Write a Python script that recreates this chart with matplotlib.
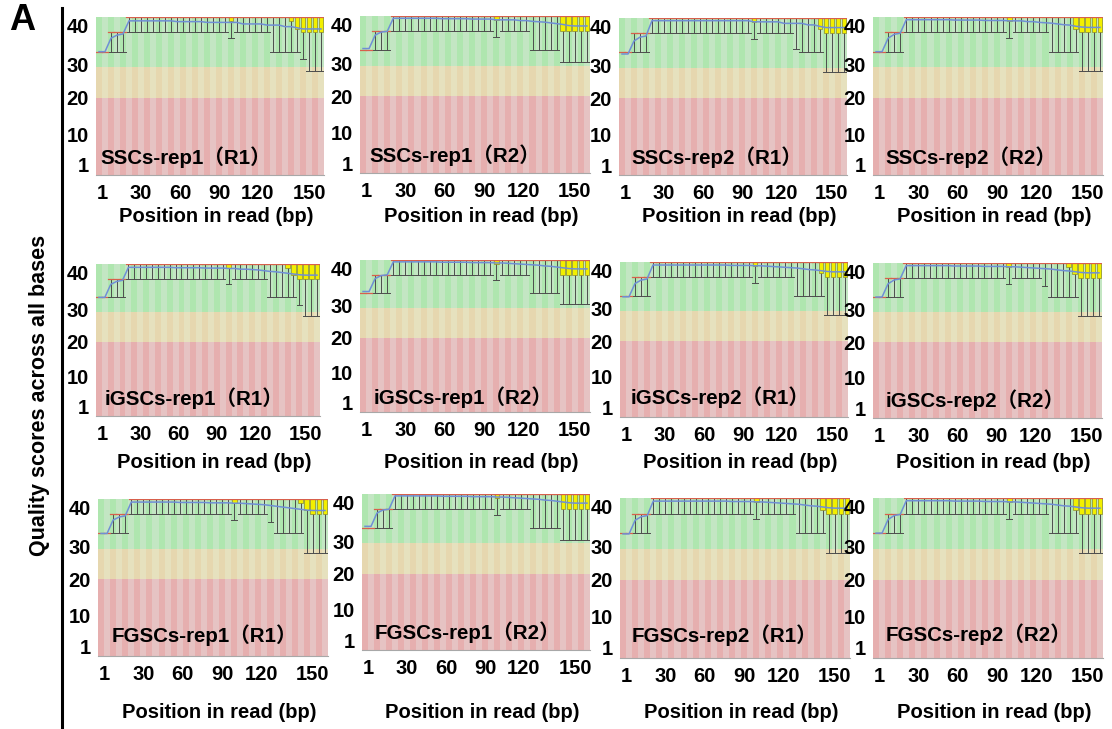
import matplotlib
matplotlib.use("Agg")
import matplotlib.pyplot as plt
from matplotlib.patches import Rectangle
from matplotlib.lines import Line2D

plt.rcParams['font.family'] = ['Liberation Sans', 'DejaVu Sans']

# ------------------------------------------------------------------
# Per-base quality summaries (38 position bins per read)
# ------------------------------------------------------------------
sample_titles = [
    "SSCs-rep1（R1）", "SSCs-rep1（R2）", "SSCs-rep2（R1）", "SSCs-rep2（R2）",
    "iGSCs-rep1（R1）", "iGSCs-rep1（R2）", "iGSCs-rep2（R1）", "iGSCs-rep2（R2）",
    "FGSCs-rep1（R1）", "FGSCs-rep1（R2）", "FGSCs-rep2（R1）", "FGSCs-rep2（R2）",
]

# median per bin; the upper quartile and the 90th percentile equal it in every bin
median_q = [32, 32, 37, 37, 37, 41, 41, 41, 41, 41, 41, 41, 41, 41, 41, 41, 41, 41, 41,
            41, 41, 41, 41, 41, 41, 41, 41, 41, 41, 41, 41, 41, 41, 41, 41, 41, 41, 41]

# mean quality per bin
sscs1_r1_mean = [32.0, 32.0, 35.5, 36.3, 36.6, 40.0, 40.0, 40.0, 40.0, 40.0, 40.0, 40.0, 40.0,
                 39.8, 39.8, 39.8, 39.8, 39.8, 39.6, 39.6, 39.6, 39.6, 39.6, 39.6, 39.2, 39.2,
                 39.2, 39.2, 38.9, 38.9, 38.9, 38.5, 38.5, 38.2, 37.9, 37.9, 37.9, 37.9]
sscs1_r2_mean = [32.5, 32.5, 36.0, 36.8, 37.0, 40.4, 40.4, 40.4, 40.4, 40.4, 40.4, 40.4, 40.4,
                 40.3, 40.3, 40.3, 40.3, 40.3, 40.2, 40.2, 40.2, 40.2, 40.0, 40.0, 40.0, 40.0,
                 39.8, 39.8, 39.6, 39.5, 39.4, 39.2, 39.0, 38.8, 38.5, 38.4, 38.4, 38.4]
sscs2_r1_mean = [31.6, 31.6, 35.0, 36.0, 36.3, 40.3, 40.3, 40.3, 40.3, 40.3, 40.3, 40.3, 40.3,
                 40.3, 40.3, 40.3, 40.3, 40.3, 40.3, 40.3, 40.3, 40.3, 40.0, 40.0, 40.0, 40.0,
                 40.0, 39.6, 39.6, 39.6, 39.6, 39.2, 39.2, 38.8, 38.5, 38.5, 38.5, 38.5]
sscs2_r2_mean = [32.0, 32.0, 35.5, 36.5, 36.8, 40.3, 40.3, 40.3, 40.3, 40.3, 40.3, 40.3, 40.3,
                 40.2, 40.2, 40.2, 40.2, 40.2, 40.1, 40.1, 40.1, 40.1, 40.0, 40.0, 40.0, 39.8,
                 39.8, 39.6, 39.5, 39.4, 39.2, 39.0, 38.9, 38.6, 38.4, 38.3, 38.3, 38.3]
igscs1_r1_mean = [32.0, 32.0, 35.5, 36.3, 36.6, 40.1, 40.1, 40.1, 40.1, 40.1, 40.1, 40.1, 40.1,
                  40.0, 40.0, 40.0, 40.0, 40.0, 39.9, 39.9, 39.9, 39.9, 39.8, 39.8, 39.6, 39.6,
                  39.5, 39.4, 39.2, 39.0, 38.9, 38.7, 38.5, 38.3, 38.1, 38.0, 38.0, 38.0]
igscs1_r2_mean = [32.5, 32.5, 36.0, 36.8, 37.0, 40.5, 40.5, 40.5, 40.5, 40.5, 40.5, 40.5, 40.5,
                  40.4, 40.4, 40.4, 40.4, 40.4, 40.3, 40.3, 40.3, 40.3, 40.2, 40.2, 40.1, 40.0,
                  39.9, 39.8, 39.7, 39.6, 39.4, 39.3, 39.1, 38.9, 38.7, 38.6, 38.6, 38.6]
igscs2_r1_mean = [31.8, 31.8, 35.3, 36.2, 36.5, 40.2, 40.2, 40.2, 40.2, 40.2, 40.2, 40.2, 40.2,
                  40.2, 40.2, 40.2, 40.2, 40.2, 40.1, 40.1, 40.1, 40.1, 40.0, 40.0, 39.9, 39.8,
                  39.7, 39.6, 39.5, 39.4, 39.2, 39.0, 38.9, 38.7, 38.5, 38.4, 38.4, 38.4]
igscs2_r2_mean = [32.0, 32.0, 35.5, 36.5, 36.8, 40.3, 40.3, 40.3, 40.3, 40.3, 40.3, 40.3, 40.3,
                  40.2, 40.2, 40.2, 40.2, 40.2, 40.1, 40.1, 40.1, 40.1, 40.0, 40.0, 39.9, 39.8,
                  39.7, 39.6, 39.5, 39.4, 39.2, 39.0, 38.9, 38.7, 38.5, 38.4, 38.4, 38.4]
fgscs1_r1_mean = [32.0, 32.0, 35.5, 36.3, 36.6, 40.2, 40.2, 40.2, 40.2, 40.2, 40.2, 40.2, 40.2,
                  40.1, 40.1, 40.1, 40.1, 40.1, 40.0, 40.0, 40.0, 40.0, 39.9, 39.9, 39.8, 39.7,
                  39.6, 39.5, 39.3, 39.1, 38.9, 38.7, 38.5, 38.3, 38.1, 38.0, 38.0, 38.0]
fgscs1_r2_mean = [32.5, 32.5, 36.0, 36.8, 37.0, 40.5, 40.5, 40.5, 40.5, 40.5, 40.5, 40.5, 40.5,
                  40.4, 40.4, 40.4, 40.4, 40.4, 40.3, 40.3, 40.3, 40.3, 40.2, 40.2, 40.1, 40.0,
                  39.9, 39.8, 39.7, 39.6, 39.4, 39.3, 39.1, 38.9, 38.7, 38.6, 38.6, 38.6]
fgscs2_r1_mean = [31.8, 31.8, 35.3, 36.2, 36.5, 40.2, 40.2, 40.2, 40.2, 40.2, 40.2, 40.2, 40.2,
                  40.2, 40.2, 40.2, 40.2, 40.2, 40.1, 40.1, 40.1, 40.1, 40.0, 40.0, 39.9, 39.8,
                  39.7, 39.6, 39.5, 39.4, 39.2, 39.0, 38.9, 38.7, 38.5, 38.4, 38.4, 38.4]
fgscs2_r2_mean = [32.0, 32.0, 35.5, 36.5, 36.8, 40.3, 40.3, 40.3, 40.3, 40.3, 40.3, 40.3, 40.3,
                  40.2, 40.2, 40.2, 40.2, 40.2, 40.1, 40.1, 40.1, 40.1, 40.0, 40.0, 39.9, 39.8,
                  39.7, 39.6, 39.5, 39.4, 39.2, 39.0, 38.9, 38.7, 38.5, 38.4, 38.4, 38.4]

# 10th percentile per bin (lower whisker)
sscs1_r1_low = [32, 32, 32, 32, 32, 37, 37, 37, 37, 37, 37, 37, 37, 37, 37, 37, 37, 37, 37,
                37, 37, 37, 35.5, 37, 37, 37, 37, 37, 37, 32, 32, 32, 32, 32, 30, 27, 27, 27]
sscs1_r2_low = [32, 32, 32, 32, 32, 37, 37, 37, 37, 37, 37, 37, 37, 37, 37, 37, 37, 37, 37,
                37, 37, 37, 35.5, 37, 37, 37, 37, 37, 32, 32, 32, 32, 32, 29, 29, 29, 29, 29]
sscs2_r1_low = [32, 32, 32, 32, 32, 37, 37, 37, 37, 37, 37, 37, 37, 37, 37, 37, 37, 37, 37,
                37, 37, 37, 35.5, 37, 37, 37, 37, 37, 37, 33, 32, 32, 32, 32, 27, 27, 27, 27]
sscs2_r2_low = [32, 32, 32, 32, 32, 37, 37, 37, 37, 37, 37, 37, 37, 37, 37, 37, 37, 37, 37,
                37, 37, 37, 35.5, 37, 37, 37, 37, 37, 37, 32, 32, 32, 32, 32, 27, 27, 27, 27]
igscs1_r1_low = [32, 32, 32, 32, 32, 37, 37, 37, 37, 37, 37, 37, 37, 37, 37, 37, 37, 37, 37,
                 37, 37, 37, 35.5, 37, 37, 37, 37, 37, 37, 32, 32, 32, 32, 32, 30, 27, 27, 27]
igscs1_r2_low = [32, 32, 32, 32, 32, 37, 37, 37, 37, 37, 37, 37, 37, 37, 37, 37, 37, 37, 37,
                 37, 37, 37, 35.5, 37, 37, 37, 37, 37, 32, 32, 32, 32, 32, 29, 29, 29, 29, 29]
igscs2_r1_low = [32, 32, 32, 32, 32, 37, 37, 37, 37, 37, 37, 37, 37, 37, 37, 37, 37, 37, 37,
                 37, 37, 37, 35.5, 37, 37, 37, 37, 37, 37, 32, 32, 32, 32, 32, 27, 27, 27, 27]
igscs2_r2_low = [32, 32, 32, 32, 32, 37, 37, 37, 37, 37, 37, 37, 37, 37, 37, 37, 37, 37, 37,
                 37, 37, 37, 35.5, 37, 37, 37, 37, 37, 35, 32, 32, 32, 32, 32, 27, 27, 27, 27]
fgscs1_r1_low = [32, 32, 32, 32, 32, 37, 37, 37, 37, 37, 37, 37, 37, 37, 37, 37, 37, 37, 37,
                 37, 37, 37, 35.5, 37, 37, 37, 37, 37, 35, 32, 32, 32, 32, 32, 27, 27, 27, 27]
fgscs1_r2_low = [32, 32, 32, 32, 32, 37, 37, 37, 37, 37, 37, 37, 37, 37, 37, 37, 37, 37, 37,
                 37, 37, 37, 35.5, 37, 37, 37, 37, 37, 32, 32, 32, 32, 32, 29, 29, 29, 29, 29]
fgscs2_r1_low = [32, 32, 32, 32, 32, 37, 37, 37, 37, 37, 37, 37, 37, 37, 37, 37, 37, 37, 37,
                 37, 37, 37, 35.5, 37, 37, 37, 37, 37, 37, 32, 32, 32, 32, 32, 27, 27, 27, 27]
fgscs2_r2_low = [32, 32, 32, 32, 32, 37, 37, 37, 37, 37, 37, 37, 37, 37, 37, 37, 37, 37, 37,
                 37, 37, 37, 35.5, 37, 37, 37, 37, 37, 37, 32, 32, 32, 32, 32, 27, 27, 27, 27]

# lower quartile per bin
sscs1_r1_box = [32, 32, 37, 37, 37, 41, 41, 41, 41, 41, 41, 41, 41, 41, 41, 41, 41, 41, 41,
                41, 41, 41, 40, 41, 41, 41, 41, 41, 41, 41, 41, 41, 40, 38, 37, 37, 37, 37]
sscs1_r2_box = [32, 32, 37, 37, 37, 41, 41, 41, 41, 41, 41, 41, 41, 41, 41, 41, 41, 41, 41,
                41, 41, 41, 40, 41, 41, 41, 41, 41, 41, 41, 41, 41, 41, 37, 37, 37, 37, 37]
sscs2_r1_box = [32, 32, 37, 37, 37, 41, 41, 41, 41, 41, 41, 41, 41, 41, 41, 41, 41, 41, 41,
                41, 41, 41, 40, 41, 41, 41, 41, 41, 41, 41, 41, 41, 41, 38, 37, 37, 37, 37]
sscs2_r2_box = [32, 32, 37, 37, 37, 41, 41, 41, 41, 41, 41, 41, 41, 41, 41, 41, 41, 41, 41,
                41, 41, 41, 40, 41, 41, 41, 41, 41, 41, 41, 41, 41, 41, 38, 37, 37, 37, 37]
igscs1_r1_box = [32, 32, 37, 37, 37, 41, 41, 41, 41, 41, 41, 41, 41, 41, 41, 41, 41, 41, 41,
                 41, 41, 41, 40, 41, 41, 41, 41, 41, 41, 41, 41, 41, 40, 38, 37, 37, 37, 37]
igscs1_r2_box = [32, 32, 37, 37, 37, 41, 41, 41, 41, 41, 41, 41, 41, 41, 41, 41, 41, 41, 41,
                 41, 41, 41, 40, 41, 41, 41, 41, 41, 41, 41, 41, 41, 41, 37, 37, 37, 37, 37]
igscs2_r1_box = [32, 32, 37, 37, 37, 41, 41, 41, 41, 41, 41, 41, 41, 41, 41, 41, 41, 41, 41,
                 41, 41, 41, 40, 41, 41, 41, 41, 41, 41, 41, 41, 41, 41, 38, 37, 37, 37, 37]
igscs2_r2_box = [32, 32, 37, 37, 37, 41, 41, 41, 41, 41, 41, 41, 41, 41, 41, 41, 41, 41, 41,
                 41, 41, 41, 40, 41, 41, 41, 41, 41, 41, 41, 41, 41, 40, 38, 37, 37, 37, 37]
fgscs1_r1_box = [32, 32, 37, 37, 37, 41, 41, 41, 41, 41, 41, 41, 41, 41, 41, 41, 41, 41, 41,
                 41, 41, 41, 40, 41, 41, 41, 41, 41, 41, 41, 41, 41, 41, 40, 38, 37, 37, 37]
fgscs1_r2_box = [32, 32, 37, 37, 37, 41, 41, 41, 41, 41, 41, 41, 41, 41, 41, 41, 41, 41, 41,
                 41, 41, 41, 40, 41, 41, 41, 41, 41, 41, 41, 41, 41, 41, 37, 37, 37, 37, 37]
fgscs2_r1_box = [32, 32, 37, 37, 37, 41, 41, 41, 41, 41, 41, 41, 41, 41, 41, 41, 41, 41, 41,
                 41, 41, 41, 40, 41, 41, 41, 41, 41, 41, 41, 41, 41, 41, 38, 37, 37, 37, 37]
fgscs2_r2_box = [32, 32, 37, 37, 37, 41, 41, 41, 41, 41, 41, 41, 41, 41, 41, 41, 41, 41, 41,
                 41, 41, 41, 40, 41, 41, 41, 41, 41, 41, 41, 41, 41, 41, 38, 37, 37, 37, 37]

mean_series = [sscs1_r1_mean, sscs1_r2_mean, sscs2_r1_mean, sscs2_r2_mean,
               igscs1_r1_mean, igscs1_r2_mean, igscs2_r1_mean, igscs2_r2_mean,
               fgscs1_r1_mean, fgscs1_r2_mean, fgscs2_r1_mean, fgscs2_r2_mean]
low_series = [sscs1_r1_low, sscs1_r2_low, sscs2_r1_low, sscs2_r2_low,
              igscs1_r1_low, igscs1_r2_low, igscs2_r1_low, igscs2_r2_low,
              fgscs1_r1_low, fgscs1_r2_low, fgscs2_r1_low, fgscs2_r2_low]
box_series = [sscs1_r1_box, sscs1_r2_box, sscs2_r1_box, sscs2_r2_box,
              igscs1_r1_box, igscs1_r2_box, igscs2_r1_box, igscs2_r2_box,
              fgscs1_r1_box, fgscs1_r2_box, fgscs2_r1_box, fgscs2_r2_box]

x_tick_labels = ["1", "30", "60", "90", "120", "150"]
y_tick_labels = ["40", "30", "20", "10", "1"]
x_label = "Position in read (bp)"
y_label = "Quality scores across all bases"

# ------------------------------------------------------------------
# Layout (figure pixels)
# ------------------------------------------------------------------
W, H = 1112, 729
fig = plt.figure(figsize=(W / 100, H / 100), dpi=100)

# (left, top, right, bottom) of each panel
panel_px = [
    (96, 17, 324, 175), (360, 16, 590, 173), (619, 18, 847, 175), (873, 17, 1103, 175),
    (96, 264, 320, 416), (360, 260, 590, 412), (620, 262, 848, 417), (873, 263, 1102, 418),
    (98, 499, 328, 656), (362, 494, 590, 650), (620, 498, 850, 658), (873, 498, 1103, 658),
]
# where each sample title starts (x, y centre)
title_px = [
    (100, 157), (369, 155), (631, 157), (885, 157),
    (105, 398), (374, 397), (631, 397), (886, 400),
    (112, 635), (375, 632), (632, 635), (886, 634),
]
xlabel_y = [216, 463, 712]

tick_bins = [1.5, 8, 14.5, 21, 27.5, 36]
qual_tick_pos = [38.8, 28.6, 20, 10.6, 2.6]

N_BINS = 38
Y_TOP = 41

band_colors = [
    (0, 20, ((230/255, 175/255, 175/255), (230/255, 195/255, 195/255))),
    (20, 28, ((230/255, 215/255, 175/255), (230/255, 225/255, 190/255))),
    (28, Y_TOP, ((175/255, 230/255, 175/255), (195/255, 230/255, 195/255))),
]

BOLD = dict(fontweight='bold', color='black')

for k in range(12):
    L, T, R, B = panel_px[k]
    ax = fig.add_axes([L / W, 1 - B / H, (R - L) / W, (B - T) / H])
    ax.set_xlim(0.5, N_BINS + 0.5)
    ax.set_ylim(0, Y_TOP)

    # shaded quality bands, alternating per bin
    for lo, hi, cols in band_colors:
        ax.add_patch(Rectangle((0.5, lo), N_BINS, hi - lo, facecolor=cols[0],
                               edgecolor='none', zorder=0, antialiased=False))
        for i in range(1, N_BINS, 2):
            ax.add_patch(Rectangle((i + 0.5, lo), 1, hi - lo, facecolor=cols[1],
                                   edgecolor='none', zorder=0.5, antialiased=False))

    means = mean_series[k]
    lows = low_series[k]
    boxes = box_series[k]
    for i in range(N_BINS):
        x = i + 1
        med = median_q[i]
        hi = median_q[i]
        lo = lows[i]
        q1 = boxes[i]
        if lo < hi:
            ax.plot([x, x], [lo, hi], color='#4d4d4d', lw=0.7, zorder=2)
            ax.plot([x - 0.45, x + 0.45], [lo, lo], color='#4d4d4d', lw=0.7, zorder=2)
            ax.plot([x - 0.45, x + 0.45], [hi, hi], color='#4d4d4d', lw=0.7, zorder=2)
        if q1 < hi:
            ax.add_patch(Rectangle((x - 0.4, q1), 0.8, hi - q1, facecolor='#f2ef00',
                                   edgecolor='#8a8a30', lw=0.5, zorder=3))
        ax.plot([x - 0.45, x + 0.45], [med, med], color='#d8604c', lw=0.9, zorder=4)

    ax.plot(range(1, N_BINS + 1), means, color='#6f8fd6', lw=1.1, zorder=5)

    for side in ('top', 'left', 'right'):
        ax.spines[side].set_visible(False)
    ax.spines['bottom'].set_color('#a8a8a8')
    ax.spines['bottom'].set_linewidth(0.8)

    ax.set_xticks(tick_bins)
    ax.set_xticklabels(x_tick_labels)
    ax.set_yticks(qual_tick_pos)
    ax.set_yticklabels(y_tick_labels)
    ax.tick_params(length=0, labelsize=14.5)
    ax.tick_params(axis='x', pad=6.5)
    ax.tick_params(axis='y', pad=5)
    for lab in ax.get_xticklabels() + ax.get_yticklabels():
        lab.set_fontweight('bold')

    tx, ty = title_px[k]
    fig.text(tx / W, 1 - ty / H, sample_titles[k], fontsize=14.8,
             family=['Liberation Sans', 'Noto Sans CJK SC'], ha='left', va='center', **BOLD)

    row = k // 4
    fig.text((L + R) / 2 / W + 6 / W, 1 - xlabel_y[row] / H, x_label, fontsize=14.5,
             ha='center', va='center', **BOLD)

# shared y label, divider line and panel letter
fig.text(40 / W, 1 - 395 / H, y_label, rotation=90, fontsize=15.5, ha='center', va='center', **BOLD)
fig.add_artist(Line2D([62 / W, 62 / W], [0, 1 - 8 / H], color='black', lw=2.2))
fig.text(22 / W, 1 - 20 / H, "A", fontsize=26, ha='center', va='center', **BOLD)

fig.savefig("out.png", dpi=100)
